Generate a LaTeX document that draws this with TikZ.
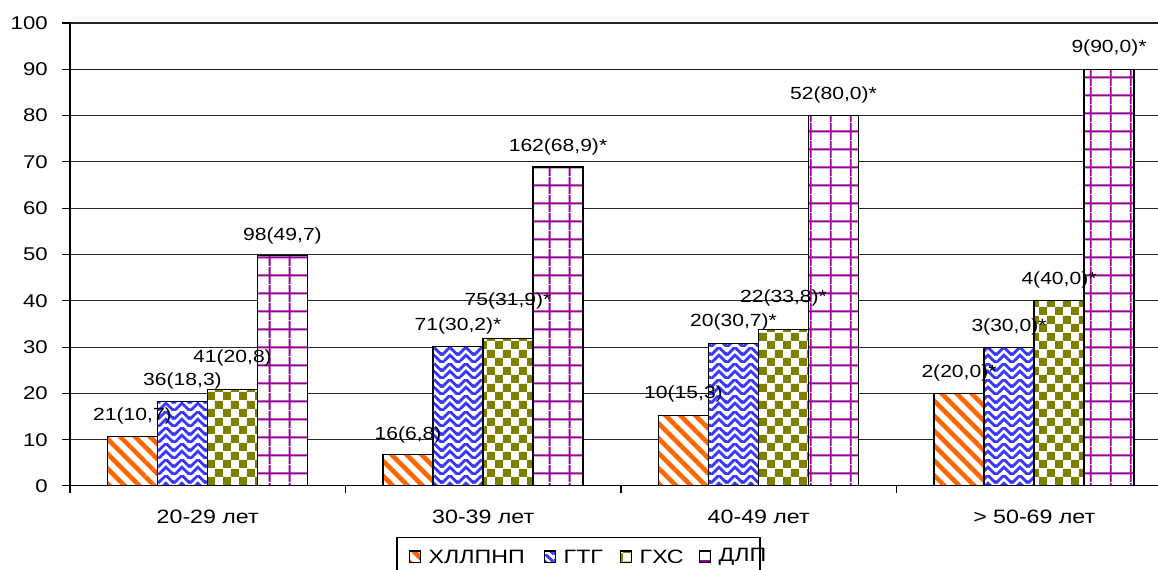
\documentclass[tikz,border=0pt]{standalone}
\usepackage{fontspec}
\setmainfont{Liberation Sans}[FakeStretch=1.2]
\usetikzlibrary{positioning,patterns.meta}
\definecolor{hlorange}{HTML}{FF6600}
\definecolor{gtgblue}{HTML}{3838FF}
\definecolor{ghsolive}{HTML}{808000}
\definecolor{dlppurple}{HTML}{990099}
\tikzdeclarepattern{name=weave, type=colored,
	bottom left={(0pt,0pt)}, top right={(9pt,9pt)}, tile size={(9pt,9pt)},
	code={\draw[gtgblue,line width=1.6pt] (0pt,0pt) -- (4.5pt,4.5pt) -- (9pt,0pt);
	      \draw[gtgblue,line width=1.6pt] (0pt,4.5pt) -- (4.5pt,9pt) -- (9pt,4.5pt);}}
\tikzdeclarepattern{name=checkers, type=colored,
	bottom left={(0pt,0pt)}, top right={(9.1pt,9.7pt)}, tile size={(9.1pt,9.7pt)},
	code={\fill[ghsolive] (0pt,0pt) rectangle (4.55pt,4.85pt);
	      \fill[ghsolive] (4.55pt,4.85pt) rectangle (9.1pt,9.7pt);}}
\tikzdeclarepattern{name=purplegrid, type=colored,
	bottom left={(0pt,0pt)}, top right={(11.4pt,10pt)}, tile size={(11.4pt,10pt)},
	code={\draw[dlppurple,line width=1.1pt] (5.7pt,0pt) -- (5.7pt,10pt);
	      \draw[dlppurple,line width=1.1pt] (0pt,5pt) -- (11.4pt,5pt);}}
\tikzset{bar/.style={draw=black,line width=0.6pt,preaction={fill=white}},
	 serA/.style={bar,pattern={Lines[angle=-45,distance=6pt,line width=2.6pt]},pattern color=hlorange},
	 serB/.style={bar,pattern=weave},
	 serC/.style={bar,pattern=checkers},
	 serD/.style={bar,pattern=purplegrid},
	 gridline/.style={black!85,line width=0.6pt},
	 ticklbl/.style={font=\fontsize{10.5}{12}\selectfont,inner sep=0pt,anchor=east},
	 catlbl/.style={font=\fontsize{11}{13}\selectfont,inner sep=0pt},
	 vallbl/.style={font=\fontsize{10}{12}\selectfont,inner sep=0pt},
	 swatch/.style={minimum size=6.6pt,inner sep=0pt},
	 legtxt/.style={font=\fontsize{11}{13}\selectfont,inner sep=0pt},
	 node distance = 4pt
	 }

\begin{document}
\begin{tikzpicture}[x=0.02cm,y=0.0926cm] % x in pixels, y in per cent
	\useasboundingbox[fill=white] (0,-18.14) rectangle (1158,104.97);
	% grid and value axis
	\foreach \v in {0,10,...,100} {
	  \draw[gridline] (70,\v) -- (1158,\v);
	  \draw[line width=0.6pt] (62,\v) -- (70,\v);
	  \node[ticklbl] (y\v) at (48,\v) {\v};
	}
	% bars
	\foreach \g/\a/\b/\c/\d in {0/10.7/18.3/20.8/49.7, 1/6.8/30.2/31.9/68.9, 2/15.3/30.7/33.8/80.0, 3/20/30/40/90} {
	  \pgfmathsetmacro{\s}{107.5+275.5*\g}
	  \draw[serA] (\s,0) rectangle ++(50,\a);
	  \draw[serB] (\s+50,0) rectangle ++(50,\b);
	  \draw[serC] (\s+100,0) rectangle ++(50,\c);
	  \draw[serD] (\s+150,0) rectangle ++(50,\d);
	}
	% axes
	\draw[line width=0.6pt] (70,0) -- (70,100);
	\draw[line width=0.6pt] (70,0) -- (1158,0);
	\foreach \g in {0,1,2,3} \draw[line width=0.6pt] (70+275.5*\g,0) -- (70+275.5*\g,-1.6);
	% categories
	\node[catlbl] (c1) at (207.75,-6.7) {20-29 лет};
	\node[catlbl] (c2) at (483.25,-6.7) {30-39 лет};
	\node[catlbl] (c3) at (758.75,-6.7) {40-49 лет};
	\node[catlbl] (c4) at (1034.25,-6.7) {> 50-69 лет};
	% data labels
	\node[vallbl] (l11) at (132.5,15.1) {21(10,7)};
	\node[vallbl] (l12) at (182.5,22.7) {36(18,3)};
	\node[vallbl] (l13) at (232.5,27.6) {41(20,8)};
	\node[vallbl] (l14) at (282.5,54.1) {98(49,7)};
	\node[vallbl] (l21) at (408,11.0) {16(6,8)};
	\node[vallbl] (l22) at (458,34.6) {71(30,2)*};
	\node[vallbl] (l23) at (508,40.0) {75(31,9)*};
	\node[vallbl] (l24) at (558,73.3) {162(68,9)*};
	\node[vallbl] (l31) at (683.5,19.9) {10(15,3)};
	\node[vallbl] (l32) at (733.5,35.4) {20(30,7)*};
	\node[vallbl] (l33) at (783.5,40.6) {22(33,8)*};
	\node[vallbl] (l34) at (833.5,84.4) {52(80,0)*};
	\node[vallbl] (l41) at (959,24.4) {2(20,0)*};
	\node[vallbl] (l42) at (1009,34.3) {3(30,0)*};
	\node[vallbl] (l43) at (1059,44.5) {4(40,0)*};
	\node[vallbl] (l44) at (1109,94.6) {9(90,0)*};
	% legend
	\draw[line width=0.6pt] (397,-11.23) rectangle (760,-19);
	\node[swatch,serA] (kA) at (415,-15.3) {};
	\node[legtxt] (tA) [right= of kA] {ХЛЛПНП};
	\node[swatch,serB] (kB) at (550,-15.3) {};
	\node[legtxt] (tB) [right= of kB] {ГТГ};
	\node[swatch,serC] (kC) at (626,-15.3) {};
	\node[legtxt] (tC) [right= of kC] {ГХС};
	\node[swatch,serD] (kD) at (705,-15.3) {};
	\node[legtxt] (tD) [right= of kD] {ДЛП};
\end{tikzpicture}
\end{document}
